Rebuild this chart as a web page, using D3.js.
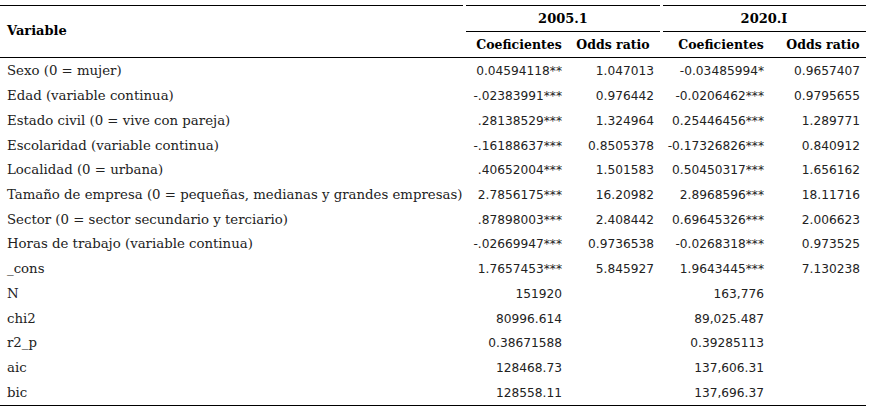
<!DOCTYPE html>
<html><head><meta charset="utf-8">
<script src="https://cdn.jsdelivr.net/npm/d3@7"></script>
<style>body{margin:0;background:#fff}</style>
</head><body><svg id="t" width="871" height="411"></svg>
<script>
// table data
var variables = ['Sexo (0 = mujer)', 'Edad (variable continua)', 'Estado civil (0 = vive con pareja)',
  'Escolaridad (variable continua)', 'Localidad (0 = urbana)',
  'Tamaño de empresa (0 = pequeñas, medianas y grandes empresas)',
  'Sector (0 = sector secundario y terciario)', 'Horas de trabajo (variable continua)', '_cons',
  'N', 'chi2', 'r2_p', 'aic', 'bic'];
var coef2005 = ['0.04594118**', '-.02383991***', '.28138529***', '-.16188637***', '.40652004***',
  '2.7856175***', '.87898003***', '-.02669947***', '1.7657453***',
  '151920', '80996.614', '0.38671588', '128468.73', '128558.11'];
var odds2005 = ['1.047013', '0.976442', '1.324964', '0.8505378', '1.501583', '16.20982', '2.408442',
  '0.9736538', '5.845927', '', '', '', '', ''];
var coef2020 = ['-0.03485994*', '-0.0206462***', '0.25446456***', '-0.17326826***', '0.50450317***',
  '2.8968596***', '0.69645326***', '-0.0268318***', '1.9643445***',
  '163,776', '89,025.487', '0.39285113', '137,606.31', '137,696.37'];
var odds2020 = ['0.9657407', '0.9795655', '1.289771', '0.840912', '1.656162', '18.11716', '2.006623',
  '0.973525', '7.130238', '', '', '', '', ''];
var periods = ['2005.1', '2020.I'];
var subHeads = ['Coeficientes', 'Odds ratio', 'Coeficientes', 'Odds ratio'];

var svg = d3.select('#t');
var SERIF = '"DejaVu Serif", "Liberation Serif", serif';
var SANS = '"DejaVu Sans", Verdana, sans-serif';

var y = d3.scaleBand().domain(d3.range(variables.length)).range([58, 404]);
var colRight = [562, 654, 764, 860];
var cols = [coef2005, odds2005, coef2020, odds2020];

function line(x1, x2, yy, w) {
  svg.append('line').attr('x1', x1).attr('x2', x2).attr('y1', yy).attr('y2', yy)
    .attr('stroke', '#000').attr('stroke-width', w || 1);
}
line(0, 463, 5.5); line(466, 660, 5.5); line(663, 866, 5.5);
line(466, 660, 31.5); line(663, 866, 31.5);
line(0, 866, 57.5);
line(0, 866, 405.5);

svg.append('text').attr('x', 7).attr('y', 35).attr('font-family', SERIF).attr('font-weight', 'bold')
  .attr('font-size', 13).text('Variable');
svg.selectAll('.per').data(periods).enter().append('text')
  .attr('x', function(d, i) { return i ? 764 : 563; }).attr('y', 23)
  .attr('text-anchor', 'middle').attr('font-family', SERIF).attr('font-weight', 'bold')
  .attr('font-size', 13).text(function(d) { return d; });
var subCenters = [519, 613, 721, 823];
svg.selectAll('.sub').data(subHeads).enter().append('text')
  .attr('x', function(d, i) { return subCenters[i]; }).attr('y', 49)
  .attr('text-anchor', 'middle').attr('font-family', SERIF).attr('font-weight', 'bold')
  .attr('font-size', 12.5).text(function(d) { return d; });

var rows = svg.selectAll('.row').data(variables).enter().append('g')
  .attr('transform', function(d, i) { return 'translate(0,' + (y(i) + y.bandwidth() / 2 + 5) + ')'; });
rows.append('text').attr('x', 7).attr('font-family', SERIF).attr('font-size', 13.3)
  .attr('fill', '#222').text(function(d) { return d; });
cols.forEach(function(col, c) {
  rows.append('text').attr('x', colRight[c]).attr('text-anchor', 'end')
    .attr('font-family', SANS).attr('font-size', 12.2).attr('fill', '#222')
    .text(function(d, i) { return col[i]; });
});
</script></body></html>
